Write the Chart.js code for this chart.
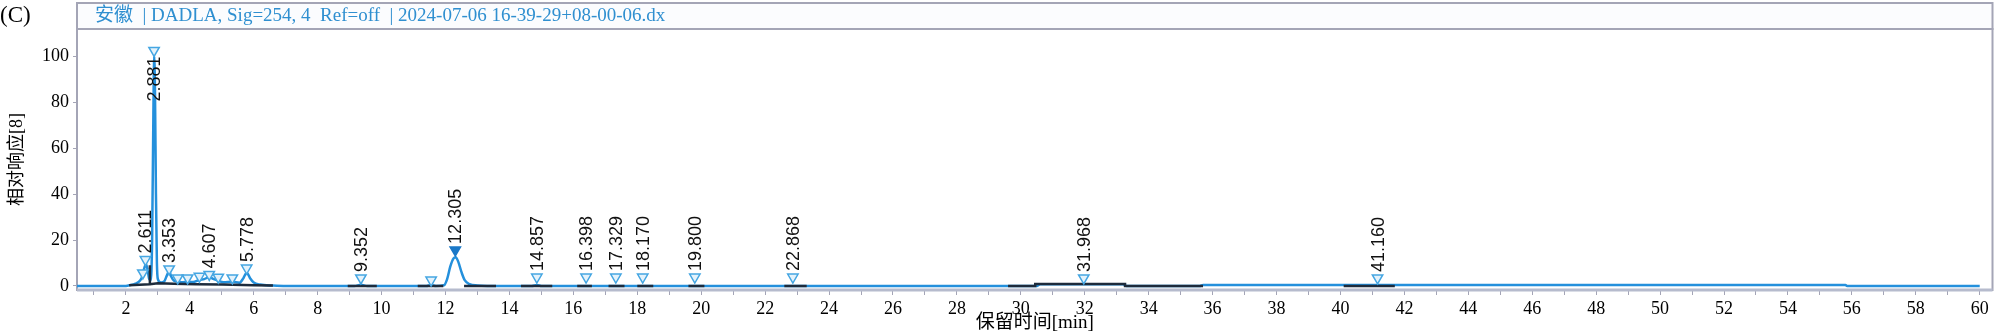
<!DOCTYPE html>
<html lang="zh">
  <head>
    <meta charset="UTF-8" />
    <title>DADLA 254 nm</title>
    <style>
      body { margin: 0; background: #fff; }
      #wrap { width: 2000px; height: 335px; position: relative; }
    </style>
  </head>
  <body>
    <div id="wrap"><canvas id="chart"></canvas></div>
    <script src="https://cdn.jsdelivr.net/npm/chart.js@4.4.1/dist/chart.umd.min.js"></script>
    <script>
      // chromatogram trace (min, % response)
      const traceTime = [0.47, 1.95, 2.1, 2.3, 2.45, 2.52, 2.58, 2.63, 2.68, 2.73, 2.78, 2.82, 2.86, 2.885, 2.91, 2.94, 2.97, 3.0,
        3.1, 3.2, 3.28, 3.35, 3.42, 3.5, 3.62, 3.75, 3.93, 4.1, 4.3, 4.45, 4.6, 4.75, 4.9, 5.05, 5.33, 5.55, 5.68, 5.78, 5.88,
        6.0, 6.2, 6.6, 7.0, 9.15, 9.35, 9.55, 11.4, 11.55, 11.7, 11.95, 12.05, 12.15, 12.25, 12.32, 12.4, 12.5, 12.6, 12.75,
        13.0, 13.3, 14.7, 14.86, 15.0, 30.5, 30.6, 33.2, 33.3, 35.6, 35.7, 55.8, 55.85, 60.0];
      const traceResp = [0, 0, 0.3, 1.0, 2.5, 4.5, 8, 9.5, 7, 3, 2.5, 20, 75, 100, 85, 40, 10, 3,
        1.5, 2.0, 4.5, 6.5, 4, 2.3, 2.0, 1.6, 1.8, 1.7, 2.6, 3.0, 3.8, 3.0, 2.2, 1.6, 1.8, 1.4, 3.5, 5.8, 3.5,
        1.5, 0.6, 0.2, 0, 0, 0.5, 0, 0, 0.4, 0, 0.3, 3, 8.5, 12, 12.5, 10.5, 6, 2.5, 0.8,
        0.2, 0, 0, 0.4, 0, 0, 0.8, 0.8, 0, 0, 0.4, 0.4, 0, 0];

      // integration baselines (null = break)
      const baseTime = [2.1, 2.75, 3.0, 3.5, 4.2, 5.0, 6.0, 6.6, 6.7, 2.75, 2.75, 2.8, 8.94, 9.85, 9.9, 11.13, 11.93, 12.0,
        12.58, 13.58, 13.6, 14.36, 15.34, 15.4, 16.12, 16.58, 16.6, 17.1, 17.6, 17.7, 18.0, 18.5, 18.6, 19.6, 20.1, 20.2,
        22.6, 23.3, 23.4, 29.6, 30.45, 30.45, 33.26, 33.26, 35.7, 35.8, 40.1, 41.7];
      const baseResp = [0.3, 0.8, 1.2, 1.0, 0.8, 0.6, 0.3, 0.2, null, 0.3, 9, null, 0, 0, null, 0, 0, null,
        0, 0, null, 0, 0, null, 0, 0, null, 0, 0, null, 0, 0, null, 0, 0, null,
        0, 0, null, 0, 0, 0.9, 0.9, 0, 0, null, 0, 0];

      // peak markers
      const peakTime = [2.53, 2.611, 2.881, 3.353, 3.62, 3.93, 4.3, 4.607, 4.89, 5.33, 5.778, 9.352, 11.55, 12.305,
        14.857, 16.398, 17.329, 18.170, 19.800, 22.868, 31.968, 41.160];
      const peakMark = [5.7, 11.5, 102.5, 7.4, 3.5, 3.5, 4.2, 5.0, 3.8, 3.5, 7.8, 3.5, 2.6, 15.7,
        3.9, 3.9, 3.9, 3.9, 3.9, 3.9, 3.5, 3.5];
      const peakLabel = ['', '2.611', '2.881', '3.353', '', '', '', '4.607', '', '', '5.778', '9.352', '', '12.305',
        '14.857', '16.398', '17.329', '18.170', '19.800', '22.868', '31.968', '41.160'];
      const labelBelow = ['2.881'];
      const filledPeaks = ['12.305'];

      const yTicks = [0, 20, 40, 60, 80, 100];
      const xTickLabels = [2, 4, 6, 8, 10, 12, 14, 16, 18, 20, 22, 24, 26, 28, 30, 32, 34, 36, 38, 40,
        42, 44, 46, 48, 50, 52, 54, 56, 58, 60];

      const headerText = '安徽  | DADLA, Sig=254, 4  Ref=off  | 2024-07-06 16-39-29+08-00-06.dx';
      const serif = '"Liberation Serif", "Noto Sans CJK SC", serif';

      const frame = {
        id: 'frame',
        beforeDraw(chart) {
          const ctx = chart.ctx;
          const a = chart.chartArea;
          ctx.save();
          ctx.fillStyle = '#fbfcfe';
          ctx.fillRect(a.left, 3, a.right - a.left, a.top - 3);
          ctx.strokeStyle = '#a4a5b6';
          ctx.lineWidth = 2;
          ctx.strokeRect(a.left, 3, a.right - a.left, a.top - 3);
          ctx.fillStyle = '#2f8fd0';
          ctx.font = '19px ' + serif;
          ctx.textBaseline = 'middle';
          ctx.fillText(headerText, a.left + 18, 16.5);
          ctx.fillStyle = '#000';
          ctx.font = '23px ' + serif;
          ctx.textBaseline = 'alphabetic';
          ctx.fillText('(C)', 0, 22);
          ctx.restore();
        },
        beforeDatasetsDraw(chart) {
          const ctx = chart.ctx;
          const a = chart.chartArea;
          ctx.save();
          ctx.strokeStyle = '#a4a5b6';
          ctx.lineWidth = 2;
          ctx.strokeRect(a.left, a.top, a.right - a.left, a.bottom - a.top);
          ctx.strokeStyle = '#b6bbcd';
          ctx.lineWidth = 3;
          ctx.beginPath();
          ctx.moveTo(a.left, a.bottom);
          ctx.lineTo(a.right, a.bottom);
          ctx.stroke();
          ctx.restore();
        },
        afterDatasetsDraw(chart) {
          const ctx = chart.ctx;
          const xs = chart.scales.x, ys = chart.scales.y;
          ctx.save();
          ctx.fillStyle = '#111';
          ctx.font = '18px "Liberation Sans", Arial, sans-serif';
          ctx.textBaseline = 'middle';
          peakLabel.forEach((lab, i) => {
            if (!lab) return;
            const px = xs.getPixelForValue(peakTime[i]);
            const py = ys.getPixelForValue(peakMark[i]);
            ctx.save();
            if (labelBelow.includes(lab)) {
              ctx.translate(px, py + 6);
              ctx.rotate(-Math.PI / 2);
              ctx.textAlign = 'right';
            } else {
              ctx.translate(px, py - 6);
              ctx.rotate(-Math.PI / 2);
              ctx.textAlign = 'left';
            }
            ctx.fillText(lab, 0, 1);
            ctx.restore();
          });
          ctx.restore();
        }
      };

      const trace = traceTime.map((t, i) => ({ x: t, y: traceResp[i] }));
      const baselines = baseTime.map((t, i) => ({ x: t, y: baseResp[i] }));
      const peaks = peakTime.map((t, i) => ({ x: t, y: peakMark[i] }));

      new Chart(document.getElementById('chart'), {
        type: 'line',
        data: {
          datasets: [
            {
              label: 'trace',
              data: trace,
              borderColor: '#2490dc',
              borderWidth: 2.5,
              pointRadius: 0,
              cubicInterpolationMode: 'monotone',
              order: 3
            },
            {
              label: 'baseline',
              data: baselines,
              borderColor: '#1d2b3c',
              borderWidth: 2.5,
              pointRadius: 0,
              spanGaps: false,
              order: 2
            },
            {
              label: 'peaks',
              data: peaks,
              showLine: false,
              pointStyle: 'triangle',
              rotation: 180,
              pointRadius: 6,
              borderWidth: 1.5,
              borderColor: peakLabel.map(l => filledPeaks.includes(l) ? '#1a78c8' : '#45a6e2'),
              backgroundColor: peakLabel.map(l => filledPeaks.includes(l) ? '#1a78c8' : '#e4f2fb'),
              order: 1
            }
          ]
        },
        options: {
          responsive: true,
          maintainAspectRatio: false,
          animation: false,
          layout: { padding: { top: 29, right: 4, left: 0, bottom: 0 } },
          plugins: { legend: { display: false }, tooltip: { enabled: false } },
          scales: {
            x: {
              type: 'linear',
              min: 0.47,
              max: 60.4,
              afterBuildTicks(scale) {
                const t = [];
                xTickLabels.forEach(v => { t.push({ value: v - 1 }); t.push({ value: v }); });
                scale.ticks = t;
              },
              afterFit(scale) { scale.height = 45; },
              grid: { drawOnChartArea: false, tickLength: 5, color: '#a4a5b6' },
              border: { display: false },
              ticks: {
                autoSkip: false,
                maxRotation: 0,
                padding: 3,
                color: '#000',
                font: { family: serif, size: 18 },
                callback: v => xTickLabels.includes(v) ? String(v) : ''
              },
              title: {
                display: true,
                text: '保留时间[min]',
                color: '#000',
                font: { family: serif, size: 19 },
                padding: { top: 0, bottom: 1 }
              }
            },
            y: {
              min: -1.75,
              max: 111.8,
              afterBuildTicks(scale) { scale.ticks = yTicks.map(v => ({ value: v })); },
              afterFit(scale) { scale.width = 77; },
              grid: { drawOnChartArea: false, tickLength: 4, color: '#a4a5b6' },
              border: { display: false },
              ticks: {
                padding: 4,
                color: '#000',
                font: { family: serif, size: 18 }
              },
              title: {
                display: true,
                text: '相对响应[8]',
                color: '#000',
                font: { family: serif, size: 18 },
                padding: { top: 6, bottom: 0 }
              }
            }
          }
        },
        plugins: [frame]
      });
    </script>
  </body>
</html>
